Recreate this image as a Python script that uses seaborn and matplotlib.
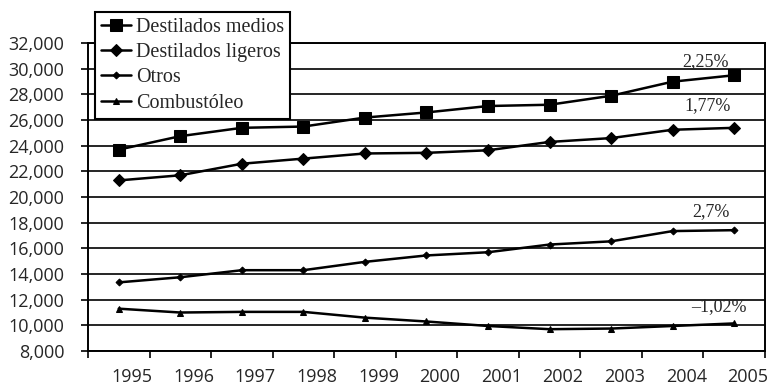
import numpy as np
import pandas as pd
import matplotlib.pyplot as plt
import matplotlib.ticker as mticker
import seaborn as sns

# data
years = ['1995', '1996', '1997', '1998', '1999', '2000', '2001', '2002', '2003', '2004', '2005']
destilados_medios = [23700, 24750, 25400, 25500, 26200, 26600, 27100, 27200, 27900, 29000, 29500]
destilados_ligeros = [21300, 21700, 22600, 23000, 23400, 23450, 23650, 24300, 24600, 25250, 25400]
otros = [13350, 13750, 14300, 14300, 14950, 15450, 15700, 16300, 16550, 17350, 17420]
combustoleo = [11300, 11000, 11050, 11050, 10600, 10300, 9950, 9700, 9750, 9950, 10150]
series_names = ['Destilados medios', 'Destilados ligeros', 'Otros', 'Combustóleo']
growth_labels = ['2,25%', '1,77%', '2,7%', '–1,02%']
y_ticks = list(range(8000, 32001, 2000))

sns.set_style('white')
plt.rcParams['font.family'] = ['Open Sans', 'DejaVu Sans']

fig = plt.figure(figsize=(7.69, 3.89), dpi=100)
ax = fig.add_axes([0.1144, 0.0977, 0.8804, 0.7913])

x = np.arange(len(years))
all_series = [destilados_medios, destilados_ligeros, otros, combustoleo]
markers = ['s', 'D', 'D', '^']
msizes = [8, 6, 3.5, 5]
offsets = [(-29, 14), (-27, 22), (-23, 19), (-15, 17)]

for name, vals, mk, ms, off, lab in zip(series_names, all_series, markers, msizes, offsets, growth_labels):
    df = pd.DataFrame({'x': x, 'v': vals})
    sns.lineplot(data=df, x='x', y='v', ax=ax, color='black', lw=1.8,
                 marker=mk, markersize=ms, markeredgecolor='black', label=name)
    ax.annotate(lab, xy=(x[-1], vals[-1]), xytext=off, textcoords='offset pixels',
                ha='center', va='center', fontsize=13, family='Liberation Serif')

ax.get_legend().remove()
h, l = ax.get_legend_handles_labels()
leg = fig.legend(h, l, loc='upper left', bbox_to_anchor=(0.1235, 0.969),
                 prop={'family': 'Liberation Serif', 'size': 14.5},
                 frameon=True, fancybox=False, edgecolor='black', framealpha=1,
                 handlelength=1.5, handletextpad=0.25, labelspacing=0.3,
                 borderpad=0.3, borderaxespad=0)
leg.get_frame().set_linewidth(1.5)

ax.set_ylim(8000, 32000)
ax.set_yticks(y_ticks)
ax.yaxis.set_major_formatter(mticker.FuncFormatter(lambda v, p: f'{v:,.0f}'))
ax.grid(axis='y', color='black', lw=1.2)
ax.set_xlim(-0.5, len(years) - 0.5)
ax.set_xticks(x + 0.22)
ax.set_xticklabels(years)
ax.set_xticks(np.arange(-0.5, len(years)), minor=True)
ax.tick_params(axis='x', which='major', length=0, pad=12, labelsize=13)
ax.tick_params(axis='x', which='minor', length=5, width=1.2, color='black', direction='out', bottom=True)
ax.tick_params(axis='y', length=5, width=1.2, color='black', direction='out', left=True, pad=12, labelsize=13)
ax.set_xlabel('')
ax.set_ylabel('')
for s in ax.spines.values():
    s.set_color('black')
    s.set_linewidth(1.4)

fig.savefig('out.png', dpi=100)
